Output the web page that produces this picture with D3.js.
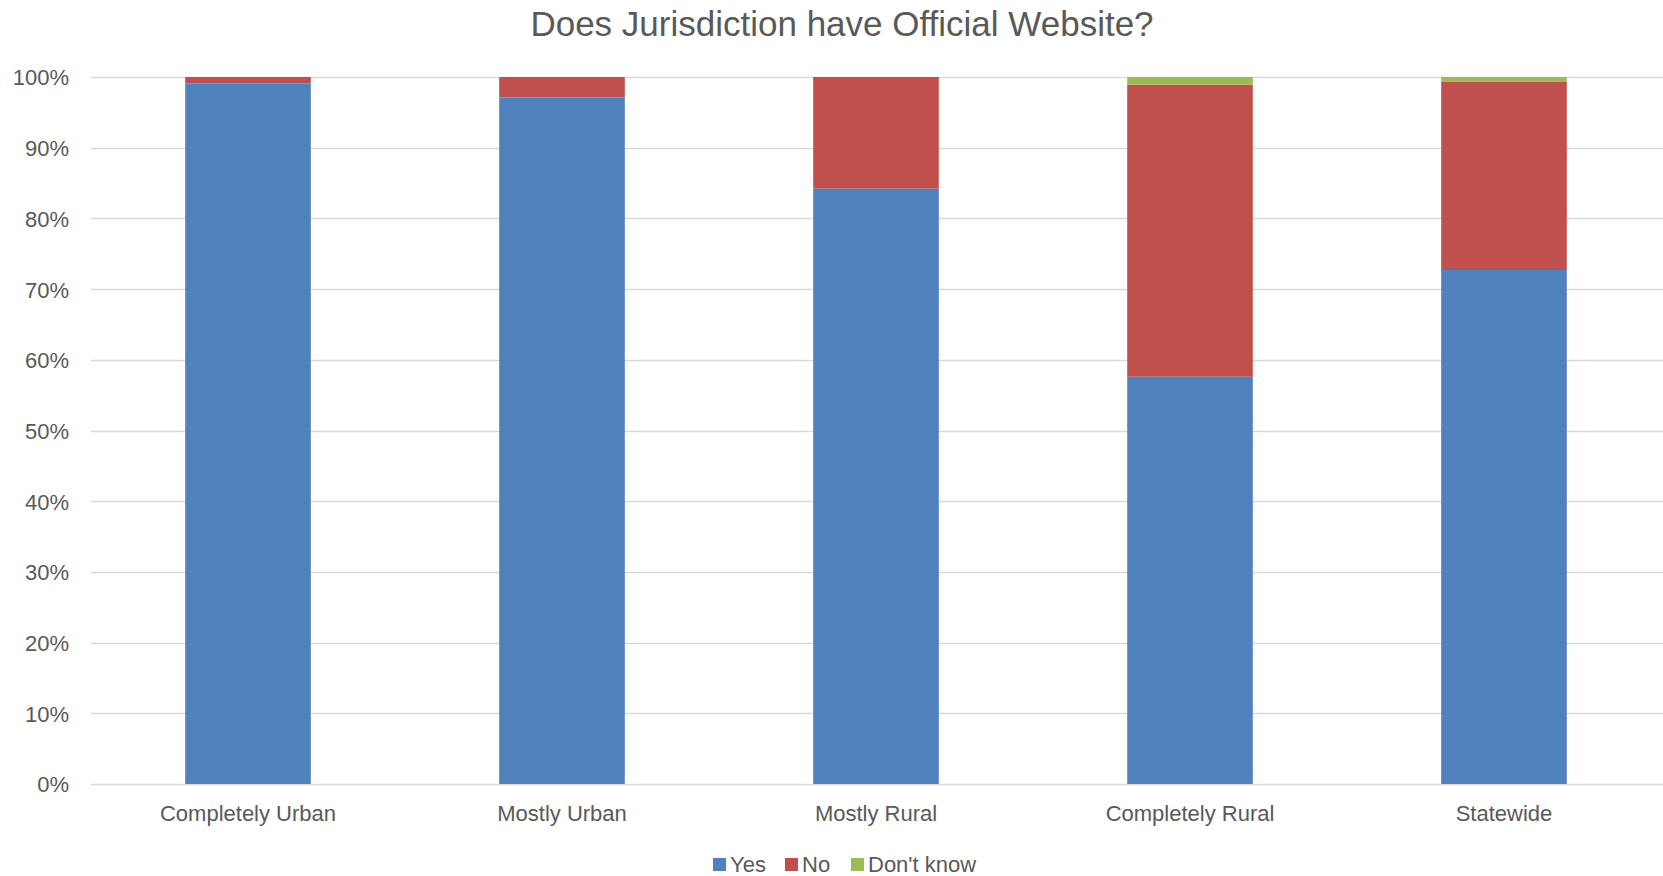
<!DOCTYPE html>
<html>
<head>
<meta charset="utf-8">
<script src="https://cdn.jsdelivr.net/npm/d3@7"></script>
<style>
  body { margin: 0; background: #fff; }
  svg text { font-family: "Liberation Sans", Arial, sans-serif; fill: #595959; }
</style>
</head>
<body>
<svg id="chart" width="1663" height="876"></svg>
<script>
// chart data
var categories = ["Completely Urban", "Mostly Urban", "Mostly Rural", "Completely Rural", "Statewide"]
var seriesNames = ["Yes", "No", "Don't know"]
var yesValues = [0.991, 0.971, 0.842, 0.576, 0.727]
var noValues = [0.009, 0.029, 0.158, 0.413, 0.266]
var dontKnowValues = [0.000, 0.000, 0.000, 0.011, 0.007]
var yTicks = [0, 0.1, 0.2, 0.3, 0.4, 0.5, 0.6, 0.7, 0.8, 0.9, 1.0]
var colors = ["#4F81BD", "#C0504D", "#9BBB59"]

var svg = d3.select("#chart")
var width = 1663, height = 876
var margin = { top: 77, right: 2, bottom: 92, left: 91 }
var plotW = width - margin.left - margin.right
var plotH = height - margin.top - margin.bottom

var rows = categories.map(function(c, i) {
  return { cat: c, "Yes": yesValues[i], "No": noValues[i], "Don't know": dontKnowValues[i] }
})
var stacked = d3.stack().keys(seriesNames)(rows)

var x = d3.scaleBand().domain(categories).range([0, plotW]).paddingInner(0.6).paddingOuter(0.3)
var y = d3.scaleLinear().domain([0, 1]).range([plotH, 0])

var g = svg.append("g").attr("transform", "translate(" + margin.left + "," + margin.top + ")")

// gridlines
g.append("g")
  .selectAll("line")
  .data(yTicks)
  .enter().append("line")
  .attr("x1", 0)
  .attr("x2", plotW + margin.right)
  .attr("y1", function(d) { return Math.round(y(d)) + 0.5 })
  .attr("y2", function(d) { return Math.round(y(d)) + 0.5 })
  .attr("stroke", "#D9D9D9")
  .attr("stroke-width", 1.5)

// y labels
var yAxis = d3.axisLeft(y).tickValues(yTicks).tickFormat(d3.format(".0%")).tickSize(0).tickPadding(22)
g.append("g").call(yAxis)
  .call(function(s) { s.select(".domain").remove() })
  .selectAll("text")
  .style("font-size", "22px")
  .attr("fill", "#595959")
  .attr("dy", "0.36em")

// bars
g.selectAll(".series")
  .data(stacked)
  .enter().append("g")
  .attr("class", "series")
  .attr("fill", function(d, i) { return colors[i] })
  .selectAll("rect")
  .data(function(d) { return d })
  .enter().append("rect")
  .attr("x", function(d) { return x(d.data.cat) })
  .attr("width", x.bandwidth())
  .attr("y", function(d) { return y(d[1]) })
  .attr("height", function(d) { return y(d[0]) - y(d[1]) })

// x labels
var xAxis = d3.axisBottom(x).tickSize(0).tickPadding(21)
g.append("g").attr("transform", "translate(0," + plotH + ")").call(xAxis)
  .call(function(s) { s.select(".domain").remove() })
  .selectAll("text")
  .style("font-size", "22px")
  .attr("fill", "#595959")

// title
svg.append("text")
  .attr("x", 842)
  .attr("y", 36)
  .attr("text-anchor", "middle")
  .style("font-size", "35px")
  .text("Does Jurisdiction have Official Website?")

// legend
var legendX = [713, 785, 851]
var legend = svg.append("g").selectAll("g")
  .data(seriesNames)
  .enter().append("g")
  .attr("transform", function(d, i) { return "translate(" + legendX[i] + ",858)" })
legend.append("rect")
  .attr("width", 13).attr("height", 13)
  .attr("fill", function(d, i) { return colors[i] })
legend.append("text")
  .attr("x", 17).attr("y", 13.5)
  .style("font-size", "22px")
  .text(function(d) { return d })
</script>
</body>
</html>
